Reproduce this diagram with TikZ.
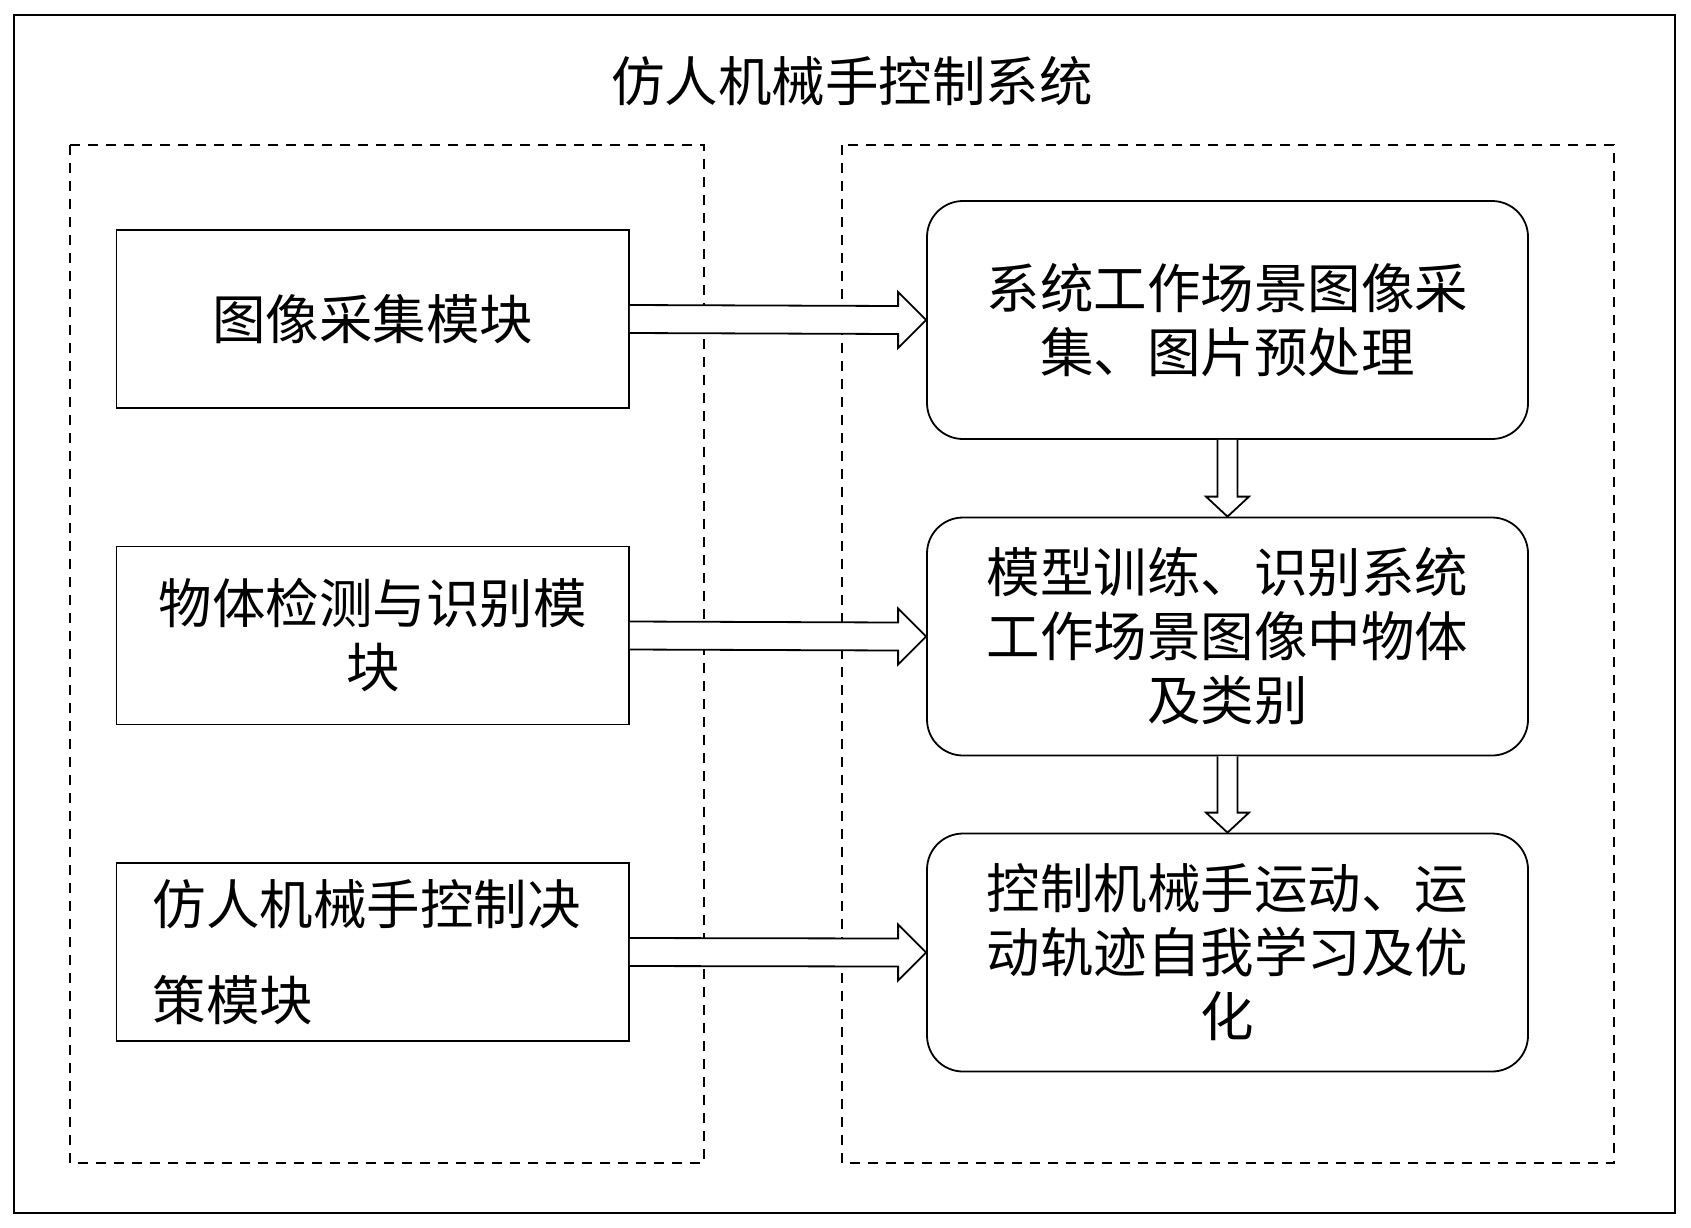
\documentclass[tikz,border=0pt]{standalone}
\usepackage{fontspec}
\setmainfont{Noto Sans CJK SC}
\usetikzlibrary{calc}
\begin{document}
\begin{tikzpicture}[x=1pt,y=-1pt,
  txt/.style={font=\fontsize{53.5pt}{64pt}\selectfont},
  lbox/.style={draw, line width=1.8pt, minimum width=512.5pt, minimum height=178pt, inner sep=0pt, align=center, txt},
  rbox/.style={draw, line width=1.8pt, rounded corners=36pt, minimum width=601pt, minimum height=238pt, inner sep=0pt, align=center, txt},
  grp/.style={draw, line width=1.6pt, dash pattern=on 10pt off 8pt},
  harrow/.style={draw, line width=1.8pt, fill=white},
]
\useasboundingbox (0,0) rectangle (1691,1227);
\draw[line width=2pt] (14,15) rectangle (1675,1213);
\node[txt] (title) at (852,81) {仿人机械手控制系统};
\draw[grp] (70,145) rectangle (704,1163);
\draw[grp] (842,145) rectangle (1614,1163);

\node[lbox] (b1) at (372.75,319) {图像采集模块};
\node[lbox] (b2) at (372.75,635.5) {物体检测与识别模\\块};
\node[lbox, text width=440pt, align=left] (b3) at (372.75,952) {仿人机械手控制决\\[32pt]策模块};

\node[rbox] (r1) at (1227.5,320) {系统工作场景图像采\\集、图片预处理};
\node[rbox] (r2) at (1227.5,636.5) {模型训练、识别系统\\工作场景图像中物体\\及类别};
\node[rbox] (r3) at (1227.5,952.5) {控制机械手运动、运\\动轨迹自我学习及优\\化};

\foreach \a/\b in {b1/r1,b2/r2,b3/r3}{
  \draw[harrow] ($(\a.east)+(0,-14)$) -- ($(\b.west)+(-28,-14)$) -- ($(\b.west)+(-28,-28)$) -- (\b.west)
    -- ($(\b.west)+(-28,28)$) -- ($(\b.west)+(-28,14)$) -- ($(\a.east)+(0,14)$);
}
\foreach \a/\b in {r1/r2,r2/r3}{
  \draw[harrow] ($(\a.south)+(-10,0)$) -- ($(\b.north)+(-10,-20)$) -- ($(\b.north)+(-21.5,-20)$) -- (\b.north)
    -- ($(\b.north)+(21.5,-20)$) -- ($(\b.north)+(10,-20)$) -- ($(\a.south)+(10,0)$);
}
\end{tikzpicture}
\end{document}
